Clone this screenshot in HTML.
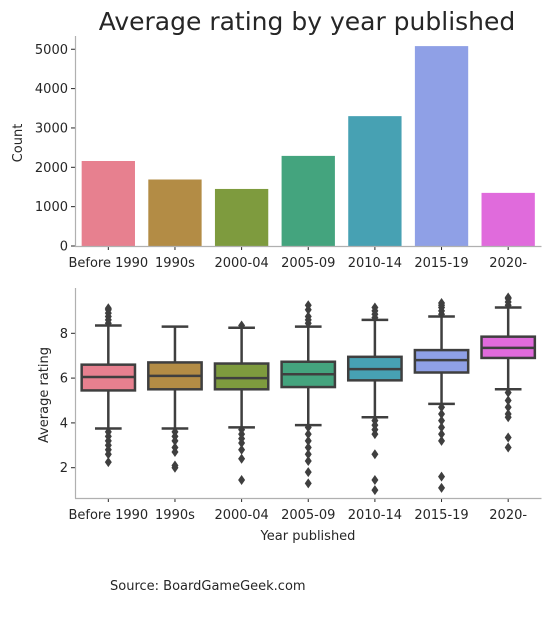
<!DOCTYPE html>
<html><head><meta charset="utf-8"><style>
html,body{margin:0;padding:0;background:#fff;width:549px;height:634px;overflow:hidden}
svg text{font-family:"DejaVu Sans","Liberation Sans",sans-serif;fill:#262626}
</style></head><body>
<svg id="chart" width="549" height="634" xmlns="http://www.w3.org/2000/svg">
<text x="307" y="30" font-size="25" text-anchor="middle">Average rating by year published</text>
<text x="110" y="590" font-size="13">Source: BoardGameGeek.com</text>
<g id="topAxes"></g><g id="botAxes"></g>
</svg>
<script>
const categories=["Before 1990","1990s","2000-04","2005-09","2010-14","2015-19","2020-"];
const counts=[2160,1690,1450,2290,3300,5080,1350];
const colors=["#e7808f","#b38c45","#7e9b3e","#44a47e","#47a1b3","#8fa0e6","#e06bdc"];
const q1=[5.45,5.5,5.5,5.6,5.9,6.25,6.9];
const med=[6.05,6.1,6.0,6.17,6.4,6.8,7.35];
const q3=[6.6,6.7,6.65,6.73,6.95,7.25,7.85];
const whLo=[3.75,3.75,3.8,3.9,4.25,4.85,5.5];
const whHi=[8.35,8.3,8.25,8.3,8.6,8.75,9.15];
const outHi=[[8.45,8.6,8.75,8.9,9.05,9.12],[],[8.35],[8.45,8.6,8.75,9.05,9.25],[8.7,8.85,9.0,9.15],[8.85,9.0,9.15,9.25,9.35],[9.25,9.4,9.55,9.6]];
const outLo=[[3.6,3.4,3.2,3.0,2.8,2.6,2.25],[3.6,3.4,3.2,2.9,2.7,2.1,2.0],[3.7,3.5,3.3,3.1,2.8,2.4,1.45],[3.8,3.5,3.2,2.9,2.6,2.3,1.8,1.3],[4.1,3.9,3.7,3.5,2.6,1.45,1.0],[4.7,4.4,4.1,3.8,3.5,3.2,1.6,1.1],[5.35,5.0,4.7,4.4,4.25,3.35,2.9]];
const countTicks=[0,1000,2000,3000,4000,5000];
const ratingTicks=[2,4,6,8];
const NS="http://www.w3.org/2000/svg";
function mk(parent,tag,attrs,txt){const e=document.createElementNS(NS,tag);for(const k in attrs)e.setAttribute(k,attrs[k]);if(txt!==undefined)e.textContent=txt;parent.appendChild(e);return e;}
const L=75,R=541.5,step=(R-L)/categories.length;
const xC=i=>L+step*(i+0.5);
const yTop=v=>246-v*0.03935;
const yBot=v=>467.7-(v-2)*22.4;
const gTop=document.getElementById('topAxes'),gBot=document.getElementById('botAxes');
categories.forEach((c,i)=>{
  const b=mk(gTop,'rect',{x:xC(i)-step*0.4,y:yTop(counts[i]),width:step*0.8,height:246-yTop(counts[i]),fill:colors[i]});
  
  
  mk(gTop,'line',{x1:xC(i),x2:xC(i),y1:246,y2:250,stroke:'#262626'});
  const t=mk(gTop,'text',{x:xC(i),y:267,'font-size':13,'text-anchor':'middle'},c);
  
  
});
countTicks.forEach(v=>{
  mk(gTop,'line',{x1:71,x2:75,y1:yTop(v),y2:yTop(v),stroke:'#262626'});
  const t=mk(gTop,'text',{x:68,y:yTop(v)+4.5,'font-size':13,'text-anchor':'end'},v);
  
  
});
mk(gTop,'line',{x1:75.5,x2:75.5,y1:36,y2:246.5,stroke:'#b0b0b0','stroke-width':1.2});
mk(gTop,'line',{x1:75,x2:541.5,y1:246.5,y2:246.5,stroke:'#b0b0b0','stroke-width':1.2});
const yl=mk(gTop,'text',{x:22,y:143,'font-size':13,'text-anchor':'middle',transform:'rotate(-90 22 143)'},'Count');


const G='#3f3f3f';
categories.forEach((c,i)=>{
  const x=xC(i),w=step*0.4;
  mk(gBot,'line',{x1:x,x2:x,y1:yBot(whLo[i]),y2:yBot(q1[i]),stroke:G,'stroke-width':2.5});
  mk(gBot,'line',{x1:x,x2:x,y1:yBot(q3[i]),y2:yBot(whHi[i]),stroke:G,'stroke-width':2.5});
  mk(gBot,'line',{x1:x-w/2,x2:x+w/2,y1:yBot(whLo[i]),y2:yBot(whLo[i]),stroke:G,'stroke-width':2.5});
  mk(gBot,'line',{x1:x-w/2,x2:x+w/2,y1:yBot(whHi[i]),y2:yBot(whHi[i]),stroke:G,'stroke-width':2.5});
  const b=mk(gBot,'rect',{x:x-w,y:yBot(q3[i]),width:2*w,height:yBot(q1[i])-yBot(q3[i]),fill:colors[i],stroke:G,'stroke-width':2.5});
  
  
  mk(gBot,'line',{x1:x-w,x2:x+w,y1:yBot(med[i]),y2:yBot(med[i]),stroke:G,'stroke-width':2.5});
  outHi[i].concat(outLo[i]).forEach(v=>{
    const y=yBot(v);
    const p=mk(gBot,'polygon',{points:`${x},${y-5} ${x+3.5},${y} ${x},${y+5} ${x-3.5},${y}`,fill:G});
    
    
  });
  mk(gBot,'line',{x1:x,x2:x,y1:498,y2:502,stroke:'#262626'});
  const t=mk(gBot,'text',{x:x,y:519,'font-size':13,'text-anchor':'middle'},c);
  
  
});
ratingTicks.forEach(v=>{
  mk(gBot,'line',{x1:71,x2:75,y1:yBot(v),y2:yBot(v),stroke:'#262626'});
  const t=mk(gBot,'text',{x:68,y:yBot(v)+4.5,'font-size':13,'text-anchor':'end'},v);
  
  
});
mk(gBot,'line',{x1:75.5,x2:75.5,y1:288,y2:498.5,stroke:'#b0b0b0','stroke-width':1.2});
mk(gBot,'line',{x1:75,x2:541.5,y1:498.5,y2:498.5,stroke:'#b0b0b0','stroke-width':1.2});
const yl2=mk(gBot,'text',{x:48,y:395,'font-size':13,'text-anchor':'middle',transform:'rotate(-90 48 395)'},'Average rating');


const xl=mk(gBot,'text',{x:308,y:540,'font-size':13,'text-anchor':'middle'},'Year published');


</script>
</body></html>
